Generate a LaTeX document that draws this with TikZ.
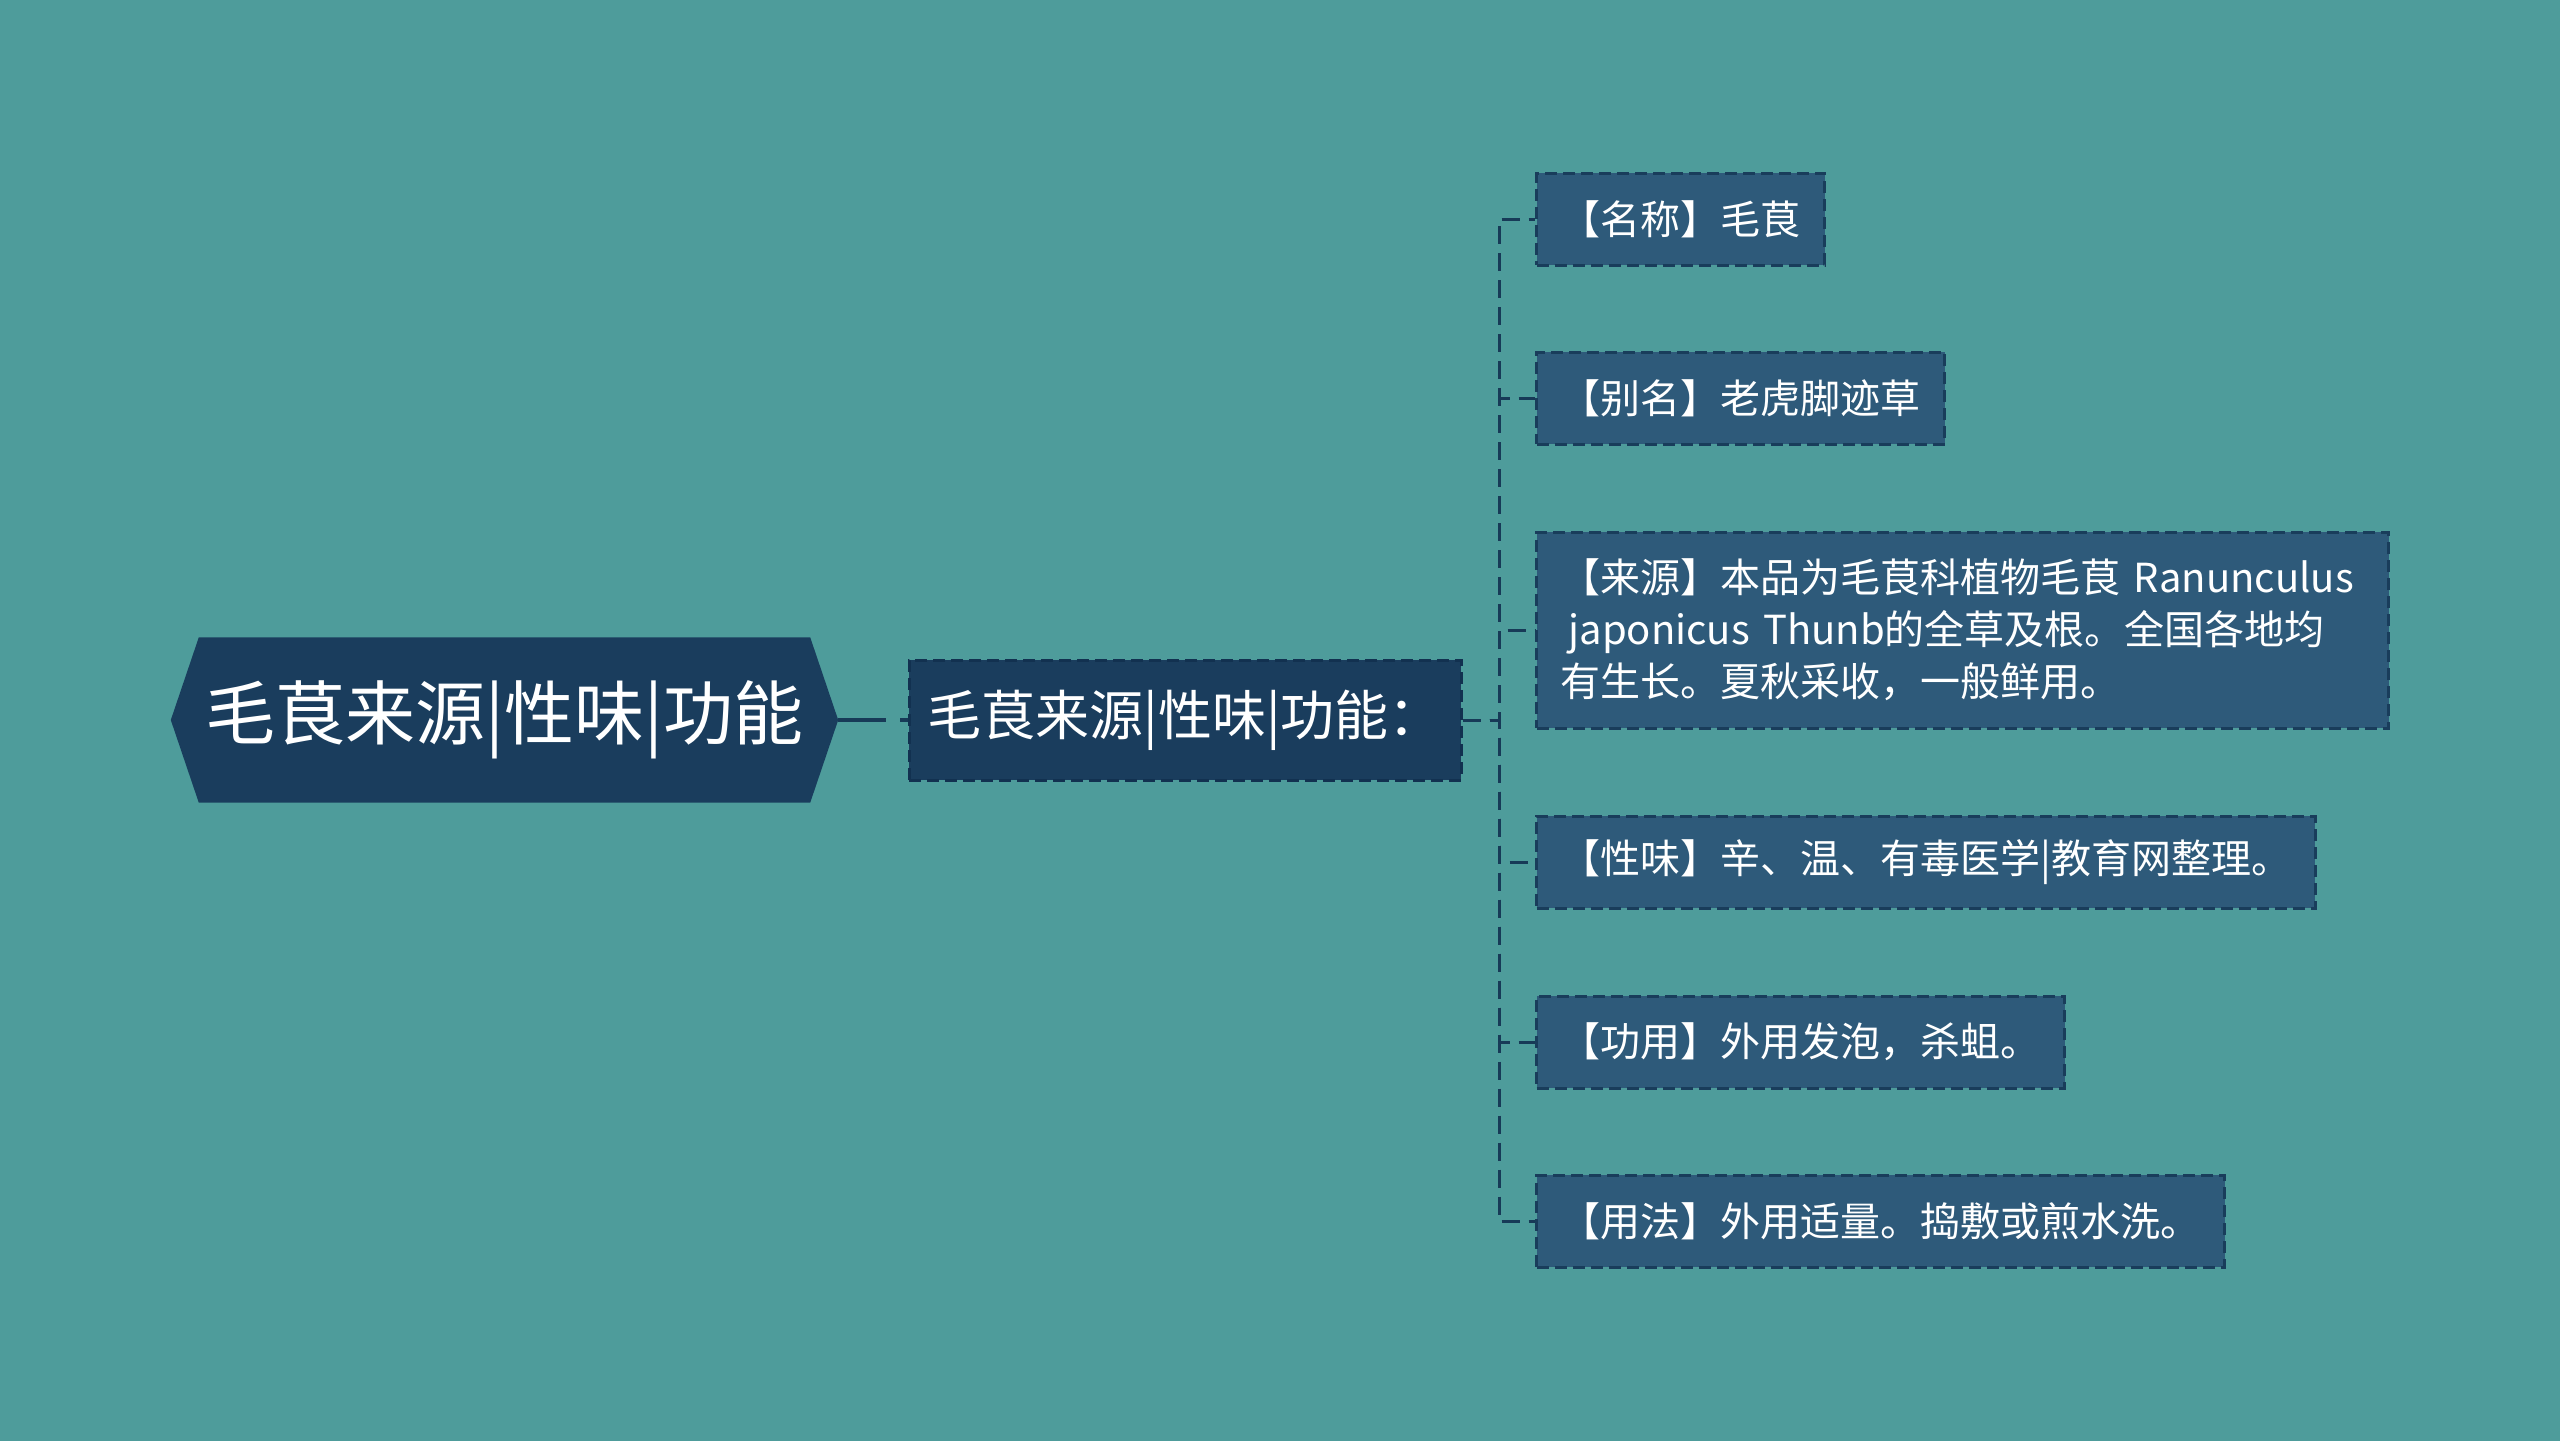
\documentclass[tikz,border=0pt]{standalone}
\usepackage{fontspec}
\setmainfont{Noto Sans CJK SC}
\definecolor{bgcol}{HTML}{4E9C9B}
\definecolor{rootfill}{HTML}{1A3D5D}
\definecolor{midfill}{HTML}{1A3D5D}
\definecolor{midborder}{HTML}{123150}
\definecolor{leaffill}{HTML}{2E5A7A}
\definecolor{leafborder}{HTML}{193D5B}
\definecolor{linecol}{HTML}{173A57}
\pgfdeclarelayer{bgzero}
\pgfdeclarelayer{bgone}
\pgfsetlayers{bgzero,bgone,main}
\begin{document}
\begin{tikzpicture}[x=1pt,y=-1pt,
  roottext/.style={minimum width=667pt, minimum height=165pt, inner sep=0pt, text=white,
    font=\fontsize{70pt}{82pt}\selectfont},
  midbox/.style={minimum width=552pt, minimum height=120pt, inner sep=0pt, fill=midfill,
    draw=midborder, line width=3pt, dash pattern=on 12pt off 6pt, text=white,
    font=\fontsize{54pt}{64pt}\selectfont},
  leafbox/.style={anchor=west, minimum height=92pt, inner xsep=24pt, inner ysep=0pt, fill=leaffill,
    draw=leafborder, line width=3pt, dash pattern=on 12pt off 6pt, text=white, align=left,
    font=\fontsize{40pt}{52pt}\selectfont},
  conn/.style={draw=linecol, line width=3pt, dash pattern=on 18pt off 9pt},
  rootline/.style={draw=linecol, line width=4pt, dash pattern=on 48pt off 14pt}
]
\begin{pgfonlayer}{bgzero}
\fill[bgcol] (0,0) rectangle (2560,1441);
\end{pgfonlayer}
\useasboundingbox (0,0) rectangle (2560,1441);

\node[roottext] (root) at (504.5,720) {毛茛来源|性味|功能};
\begin{pgfonlayer}{bgone}
\fill[rootfill] (root.west) -- ([xshift=28pt]root.north west) -- ([xshift=-28pt]root.north east)
  -- (root.east) -- ([xshift=-28pt]root.south east) -- ([xshift=28pt]root.south west) -- cycle;
\end{pgfonlayer}

\node[midbox] (mid) at (1185,720) {毛茛来源|性味|功能：};
\coordinate (trunk) at (1499,720);

\node[leafbox] (l1) at (1535,219) {【名称】毛茛};
\node[leafbox] (l2) at (1535,398) {【别名】老虎脚迹草};
\node[leafbox, minimum height=196pt, text width=804pt] (l3) at (1535,630) {【来源】本品为毛茛科植物毛茛 Ranunculus\\\hspace*{8pt}japonicus Thunb的全草及根。全国各地均\\有生长。夏秋采收，一般鲜用。};
\node[leafbox] (l4) at (1535,862) {【性味】辛、温、有毒医学|教育网整理。};
\node[leafbox] (l5) at (1535,1042) {【功用】外用发泡，杀蛆。};
\node[leafbox] (l6) at (1535,1221) {【用法】外用适量。捣敷或煎水洗。};

\draw[rootline] (root.east) -- (mid.west);
\foreach \n in {l1,l2,l3,l4,l5,l6}{
  \draw[conn] (mid.east) -- (trunk) |- (\n.west);
}
\end{tikzpicture}
\end{document}
